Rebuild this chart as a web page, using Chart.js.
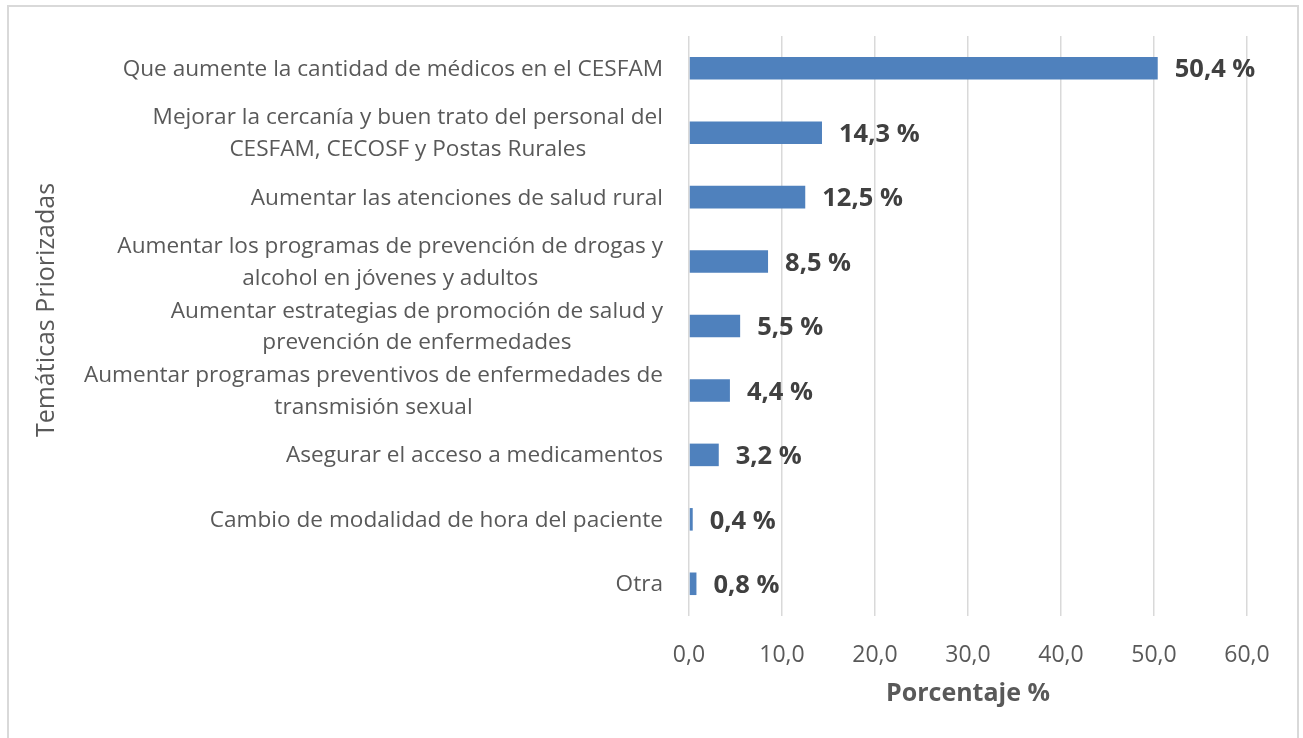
<!DOCTYPE html>
<html><head><meta charset="utf-8">
<script src="https://cdn.jsdelivr.net/npm/chart.js@4.4.1/dist/chart.umd.min.js"></script>
<style>
html,body{margin:0;padding:0;background:#fff;overflow:hidden;width:1303px;height:738px}
#frame{position:absolute;left:7px;top:5px;width:1288px;height:800px;border:2px solid #d9d9d9}
#wrap{position:absolute;left:0;top:0;width:1303px;height:738px}
</style></head><body>
<div id="frame"></div>
<div id="wrap"><canvas id="c" width="1303" height="738"></canvas></div>
<script>
const categories = [
  "Que aumente la cantidad de médicos en el CESFAM",
  ["Mejorar la cercanía y buen trato del personal del", "CESFAM, CECOSF y Postas Rurales"],
  "Aumentar las atenciones de salud rural",
  ["Aumentar los programas de prevención de drogas y", "alcohol en jóvenes y adultos"],
  ["Aumentar estrategias de promoción de salud y", "prevención de enfermedades"],
  ["Aumentar programas preventivos de enfermedades de", "transmisión sexual"],
  "Asegurar el acceso a medicamentos",
  "Cambio de modalidad de hora del paciente",
  "Otra"
];
const values = [50.4, 14.3, 12.5, 8.5, 5.5, 4.4, 3.2, 0.4, 0.8];
const xTicks = [0, 10, 20, 30, 40, 50, 60];
const xTitle = "Porcentaje %";
const yTitle = "Temáticas Priorizadas";

const FAM = '"Open Sans", "Noto Sans", sans-serif';
const fmt = v => Number(v).toFixed(1).replace('.', ',');

const drawPlugin = {
  id: 'custom',
  afterDraw(chart) {
    const ctx = chart.ctx;
    const ys = chart.scales.y;
    const meta = chart.getDatasetMeta(0);
    ctx.save();
    ctx.font = '22.6px ' + FAM;
    ctx.fillStyle = '#595959';
    ctx.textBaseline = 'middle';
    ctx.textAlign = 'center';
    categories.forEach((lab, i) => {
      const lines = Array.isArray(lab) ? lab : [lab];
      const w = Math.max(...lines.map(l => ctx.measureText(l).width));
      const cx = ys.right - 26 - w / 2;
      const cy = ys.getPixelForTick(i) + 1;
      const lh = 31.5;
      lines.forEach((l, j) => ctx.fillText(l, cx, cy + (j - (lines.length - 1) / 2) * lh));
    });
    ctx.font = 'bold 25.5px ' + FAM;
    ctx.fillStyle = '#404040';
    ctx.textAlign = 'left';
    meta.data.forEach((bar, i) => {
      ctx.fillText(fmt(values[i]) + ' %', bar.x + 17, bar.y + 2);
    });
    ctx.translate(47, 310);
    ctx.rotate(-Math.PI / 2);
    ctx.font = '25px ' + FAM;
    ctx.fillStyle = '#595959';
    ctx.textAlign = 'center';
    ctx.fillText(yTitle, 0, 0);
    ctx.restore();
  }
};

function draw() {
  new Chart(document.getElementById('c'), {
    type: 'bar',
    data: {
      labels: categories,
      datasets: [{
        data: values,
        backgroundColor: '#4F81BD',
        borderWidth: 0,
        categoryPercentage: 1,
        barPercentage: 0.35
      }]
    },
    options: {
      indexAxis: 'y',
      responsive: false,
      animation: false,
      devicePixelRatio: 1,
      layout: { padding: { top: 36, right: 56, left: 0, bottom: 0 } },
      plugins: { legend: { display: false }, tooltip: { enabled: false } },
      scales: {
        x: {
          min: 0, max: 60,
          afterBuildTicks: s => { s.ticks = xTicks.map(v => ({ value: v })); },
          ticks: { callback: v => fmt(v), color: '#595959', font: { family: FAM, size: 23 }, padding: 26, maxRotation: 0 },
          grid: { color: '#d9d9d9', lineWidth: 1.5, drawTicks: false },
          border: { display: false },
          title: { display: true, text: xTitle, color: '#595959', font: { family: FAM, size: 25, weight: 'bold' }, padding: { top: 0, bottom: 29 } },
          afterFit: s => { s.height = 122; }
        },
        y: {
          ticks: { display: false },
          grid: { display: false },
          border: { display: false },
          afterFit: s => { s.width = 689; }
        }
      }
    },
    plugins: [drawPlugin]
  });
}
const loads = ['23px "Open Sans"', 'bold 25px "Open Sans"'].map(f => document.fonts.load(f));
Promise.all(loads).then(draw, draw);
</script>
</body></html>
